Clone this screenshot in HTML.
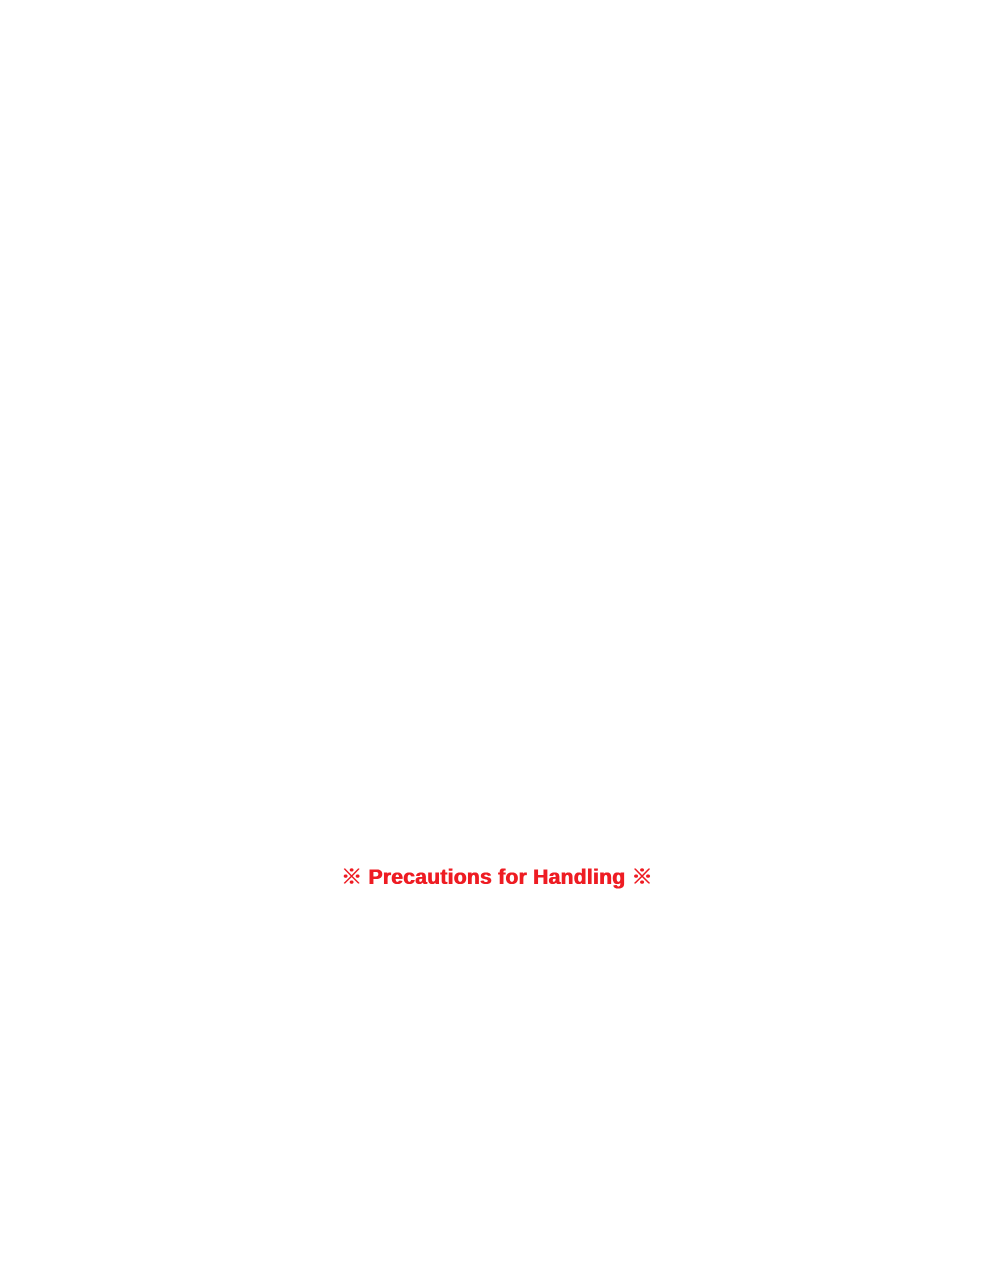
<!DOCTYPE html>
<html><head><meta charset="utf-8"><style>
html,body{margin:0;padding:0;background:#fff;width:1000px;height:1286px;overflow:hidden}
.t{position:absolute;left:0;width:994px;top:864px;text-align:center;color:#ee1c23;font-family:"Liberation Sans","Noto Sans CJK JP",sans-serif;font-weight:bold;font-size:21px;line-height:28px;letter-spacing:0.3px;text-shadow:0.4px 0 0 #ee1c23,-0.4px 0 0 #ee1c23}
.t b{font-weight:900}
</style></head><body>
<div class="t"><b>※</b> Precautions for Handling <b>※</b></div>
</body></html>
